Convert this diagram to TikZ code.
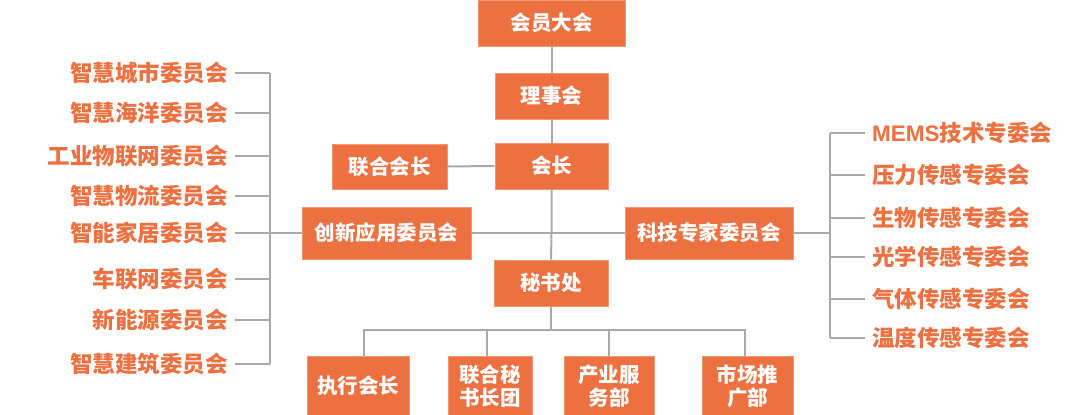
\documentclass[tikz,border=0pt]{standalone}
\usepackage{fontspec}
\newfontfamily\cjk{Noto Sans CJK SC}
\newfontfamily\latn{Liberation Sans}
\definecolor{org}{RGB}{236,112,64}
\definecolor{orgedge}{RGB}{242,150,115}
\definecolor{ln}{RGB}{170,170,170}
\tikzset{
  box/.style={fill=org, draw=orgedge, line width=0.8pt, text=white, font=\cjk\bfseries\fontsize{20.5}{23}\selectfont, inner sep=0pt, align=center},
  lab/.style={text=org, font=\cjk\bfseries\fontsize{22.5}{24}\selectfont, inner sep=4pt},
  conn/.style={draw=ln, line width=2pt}
}
\begin{document}
\begin{tikzpicture}[x=1pt,y=-1pt]
\useasboundingbox (0,0) rectangle (1080,415);
% central column
\node[box, minimum width=147, minimum height=46] (gm) at (551.5,23) {会员大会};
\node[box, minimum width=113, minimum height=46] (bd) at (551.5,96) {理事会};
\node[box, minimum width=113, minimum height=46] (pr) at (551.5,166) {会长};
\node[box, minimum width=115, minimum height=45] (jp) at (389.5,166.5) {联合会长};
\node[box, minimum width=169, minimum height=52] (cx) at (386.5,233) {创新应用委员会};
\node[box, minimum width=168, minimum height=52] (kj) at (709,233) {科技专家委员会};
\node[box, minimum width=114, minimum height=46] (ms) at (551,283) {秘书处};
% bottom
\node[box, minimum width=102, minimum height=60] (b1) at (358,386) {执行会长};
\node[box, minimum width=84, minimum height=60] (b2) at (490,386) {联合秘\\书长团};
\node[box, minimum width=90, minimum height=60] (b3) at (609,386) {产业服\\务部};
\node[box, minimum width=91, minimum height=60] (b4) at (747.5,386) {市场推\\广部};
\coordinate (bus) at (551,330);
\coordinate (mid) at (551.5,233);
% connectors
\draw[conn] (gm.south) -- (bd.north);
\draw[conn] (bd.south) -- (pr.north);
\draw[conn] (pr.south) -- (mid) -- (ms.north);
\draw[conn] (jp.east) -- (pr.west);
\draw[conn] (cx.east) -- (kj.west);
\draw[conn] (ms.south) -- (bus);
\draw[conn] (bus) -| ([xshift=6]b1.north);
\draw[conn] (bus) -| ([xshift=-3]b2.north);
\draw[conn] (bus) -| (b3.north);
\draw[conn] (bus) -| ([xshift=-2.5]b4.north);
% left list
\coordinate (lb) at (270,233);
\foreach \n/\y/\t in {l1/73/智慧城市委员会, l2/113/智慧海洋委员会, l3/156/工业物联网委员会, l4/196/智慧物流委员会, l5/233/智能家居委员会, l6/279/车联网委员会, l7/320/新能源委员会, l8/364/智慧建筑委员会}{
  \node[lab, anchor=east] (\n) at (232,\y) {\t};
  \draw[conn] ([xshift=3]\n.east) -- (\n.east -| lb);
}
\draw[conn] (l1.east -| lb) -- (l8.east -| lb);
\draw[conn] (lb) -- (cx.west);
% right list
\coordinate (rb) at (830,233);
\foreach \n/\y/\t in {r1/133/{{\latn\bfseries MEMS}技术专委会}, r2/175/压力传感专委会, r3/218/生物传感专委会, r4/257/光学传感专委会, r5/299/气体传感专委会, r6/338/温度传感专委会}{
  \node[lab, anchor=west] (\n) at (868,\y) {\t};
  \draw[conn] ([xshift=-3]\n.west) -- (\n.west -| rb);
}
\draw[conn] (r1.west -| rb) -- (r6.west -| rb);
\draw[conn] (kj.east) -- (rb);
\end{tikzpicture}
\end{document}
